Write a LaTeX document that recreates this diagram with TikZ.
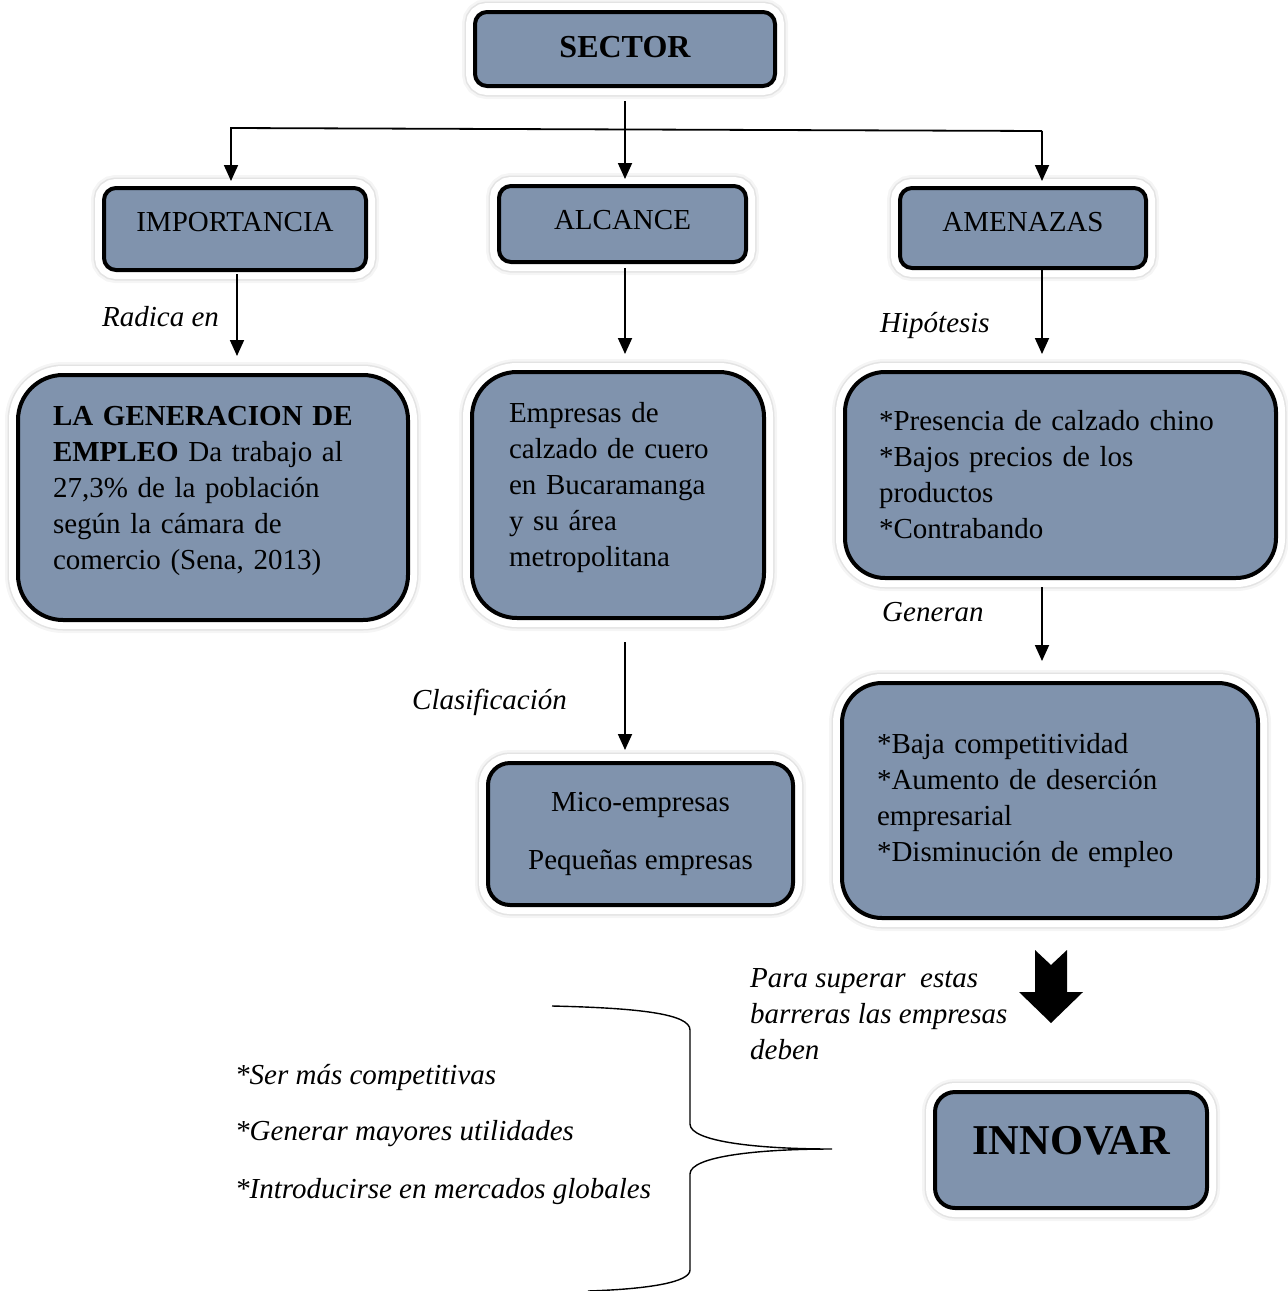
\documentclass[tikz,border=0pt]{standalone}
\usepackage{fontspec}
\setmainfont{Liberation Serif}
\usetikzlibrary{arrows.meta,calc}
\definecolor{boxfill}{RGB}{128,147,173}
\tikzset{
  base/.style={font=\fontsize{29}{36}\selectfont},
  card/.style={base, rectangle, rounded corners=#1, fill=boxfill, draw=black,
    line width=4pt, inner sep=0pt, align=center,
    preaction={draw=black!4, line width=26pt},
    preaction={draw=black!11, line width=21pt},
    preaction={draw=white, line width=18pt}},
  card/.default=12pt,
  link/.style={line width=1.8pt, -{Triangle[width=14pt,length=16pt]}},
  tag/.style={font=\fontsize{29}{36}\selectfont\itshape, inner sep=0pt, align=left},
}
% extra depth below the last line of a box text
\newcommand{\lowpad}[1]{\rule[-#1]{0pt}{#1}}
\begin{document}
\begin{tikzpicture}[x=1pt,y=-1pt]
\useasboundingbox (0,0) rectangle (1288,1291);

% boxes
\node[card=12pt, minimum width=300pt, minimum height=74pt, text depth=4pt,
      font=\fontsize{32}{36}\selectfont\bfseries] (sector) at (625,49) {SECTOR};
\node[card=12pt, minimum width=262pt, minimum height=82pt, text depth=14pt] (imp) at (235,229) {IMPORTANCIA};
\node[card=12pt, minimum width=247pt, minimum height=76pt, text depth=8pt] (alc) at (622.5,224) {ALCANCE};
\node[card=12pt, minimum width=246pt, minimum height=80pt, text depth=12pt] (ame) at (1023,228) {AMENAZAS};

\node[card=45pt, minimum width=390pt, minimum height=245pt, text width=320pt, align=left]
  (gen) at (213,497.5)
  {\textbf{LA GENERACION DE}\\\textbf{EMPLEO} Da trabajo al\\27,3\% de la población\\según la cámara de\\comercio (Sena, 2013)\lowpad{20pt}};
\node[card=45pt, minimum width=292pt, minimum height=246pt, text width=218pt, align=left]
  (emp) at (618,495)
  {Empresas de\\calzado de cuero\\en Bucaramanga\\y su área\\metropolitana\lowpad{22pt}};
\node[card=40pt, minimum width=431pt, minimum height=206pt, text width=363pt, align=left]
  (pre) at (1060.5,475)
  {*Presencia de calzado chino\\{}*Bajos precios de los\\productos\\{}*Contrabando};
\node[card=22pt, minimum width=305pt, minimum height=142pt]
  (mico) at (640.5,834)
  {Mico-empresas\\[22pt]Pequeñas empresas};
\node[card=40pt, minimum width=416pt, minimum height=235pt, text width=346pt, align=left]
  (baja) at (1050,800.5)
  {*Baja competitividad\\{}*Aumento de deserción\\empresarial\\{}*Disminución de empleo};
\node[card=20pt, minimum width=272pt, minimum height=116pt, text depth=20pt,
      font=\fontsize{42.5}{48}\selectfont\bfseries] (innov) at (1071,1150) {INNOVAR};

% branch points of the top connector
\coordinate (bl) at (231,128);
\coordinate (br) at (1042,131);

% connectors
\draw[link, shorten <=13pt, shorten >=5pt] (sector.south) -- (sector.south |- alc.north);
\draw[link, shorten >=5pt] (br) -- (bl) -- (bl |- imp.north);
\draw[link, shorten >=5pt] (br) -- (br |- ame.north);
\draw[link, shorten <=2pt, shorten >=17pt] ($(imp.south)+(2,0)$) -- ($(imp.south |- gen.north)+(2,0)$);
\draw[link, shorten <=4pt, shorten >=16pt] (sector.south |- alc.south) -- (sector.south |- emp.north);
\draw[link, shorten >=16pt] (br |- ame.south) -- (br |- pre.north);
\draw[link, shorten <=22pt, shorten >=11pt] (sector.south |- emp.south) -- (sector.south |- mico.north);
\draw[link, shorten <=7pt, shorten >=20pt] (br |- pre.south) -- (br |- baja.north);

% connector labels
\node[tag, anchor=west] (lrad) at (102,317) {Radica en};
\node[tag, anchor=west] (lhip) at (880,326) {Hipótesis};
\node[tag, anchor=west] (lcla) at (412,702) {Clasificación};
\node[tag, anchor=west] (lgen) at (882,612) {Generan};
\node[tag, anchor=north west] (lpara) at (750,968)
  {Para superar\ \ estas\\barreras las empresas\\deben};

% block arrow towards INNOVAR
\fill[black] (1035,950) -- (1051,965) -- (1067,950) -- (1067,992) -- (1083,992)
  -- (1051,1023) -- (1019,992) -- (1035,992) -- cycle;

% goals and the brace gathering them
\node[tag, anchor=west] (g1) at (235,1077) {*Ser más competitivas};
\node[tag, anchor=west] (g2) at (235,1134) {*Generar mayores utilidades};
\node[tag, anchor=west] (g3) at (235,1192) {*Introducirse en mercados globales};

\coordinate (tip) at (832,1149);
\draw[line width=1.4pt]
  (552,1006) .. controls (640,1008) and (690,1014) .. (690,1030)
  -- (690,1124) .. controls (690,1142) and (760,1149) .. (tip)
  .. controls (760,1149) and (690,1156) .. (690,1174)
  -- (690,1270) .. controls (690,1282) and (650,1289) .. (588,1291);
\end{tikzpicture}
\end{document}
